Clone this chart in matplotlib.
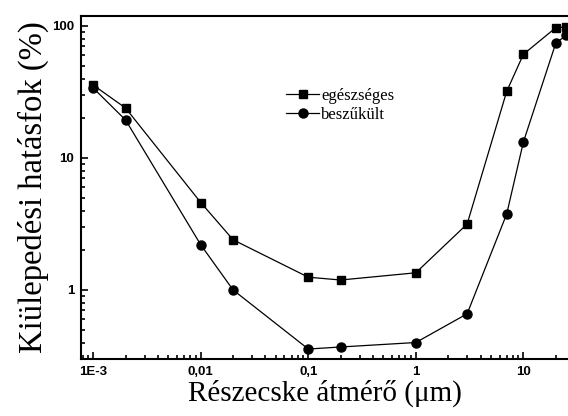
import numpy as np
import matplotlib.pyplot as plt
from matplotlib.ticker import FixedLocator, FixedFormatter, LogLocator, NullFormatter

# particle diameter (um) and deposition efficiency (%)
diam = [0.001, 0.002, 0.01, 0.02, 0.1, 0.2, 1, 3, 7, 10, 20, 25]
healthy = [35.7, 23.9, 4.6, 2.4, 1.25, 1.19, 1.35, 3.16, 32, 61, 97, 98]
narrowed = [33.9, 19.4, 2.2, 1.0, 0.357, 0.37, 0.40, 0.66, 3.77, 13.2, 74, 85]

xticks = [0.001, 0.01, 0.1, 1, 10]
xticklabels = ["1E-3", "0,01", "0,1", "1", "10"]
yticks = [1, 10, 100]
yticklabels = ["1", "10", "100"]

fig = plt.figure(figsize=(5.68, 4.16), dpi=100)
ax = fig.add_axes([0.1426, 0.137, 0.8574, 0.8245])

ax.plot(diam, healthy, "-s", color="black", lw=0.9, ms=5.8, label="egészséges")
ax.plot(diam, narrowed, "-o", color="black", lw=0.9, ms=6.5, label="beszűkült")

ax.set_xscale("log")
ax.set_yscale("log")
ax.set_xlim(7.7e-4, 26)
ax.set_ylim(0.30, 119)

ax.xaxis.set_major_locator(FixedLocator(xticks))
ax.xaxis.set_major_formatter(FixedFormatter(xticklabels))
ax.xaxis.set_minor_locator(LogLocator(base=10, subs=np.arange(2, 10)))
ax.xaxis.set_minor_formatter(NullFormatter())
ax.yaxis.set_major_locator(FixedLocator(yticks))
ax.yaxis.set_major_formatter(FixedFormatter(yticklabels))
ax.yaxis.set_minor_locator(LogLocator(base=10, subs=np.arange(2, 10)))
ax.yaxis.set_minor_formatter(NullFormatter())

ax.tick_params(which="both", direction="in", top=False, right=False, width=1.2)
ax.tick_params(which="major", length=5, pad=5)
ax.tick_params(which="minor", length=3)
for lab in ax.get_xticklabels() + ax.get_yticklabels():
    lab.set_fontfamily("Liberation Sans")
    lab.set_fontweight("bold")
    lab.set_fontsize(9.5)

for s in ["left", "bottom", "top"]:
    ax.spines[s].set_linewidth(1.5)
ax.spines["right"].set_visible(False)

ax.set_xlabel("Részecske átmérő (μm)", fontfamily="Liberation Serif", fontsize=21, labelpad=1)
ax.set_ylabel("Kiülepedési hatásfok (%)", fontfamily="Liberation Serif", fontsize=23.5, labelpad=2)

ax.legend(loc="upper left", bbox_to_anchor=(0.39, 0.835), frameon=False,
          prop={"family": "Liberation Serif", "size": 12}, handlelength=2.0,
          handletextpad=0.1, labelspacing=0.2, markerscale=1.0)

fig.savefig("out.png", dpi=100)
